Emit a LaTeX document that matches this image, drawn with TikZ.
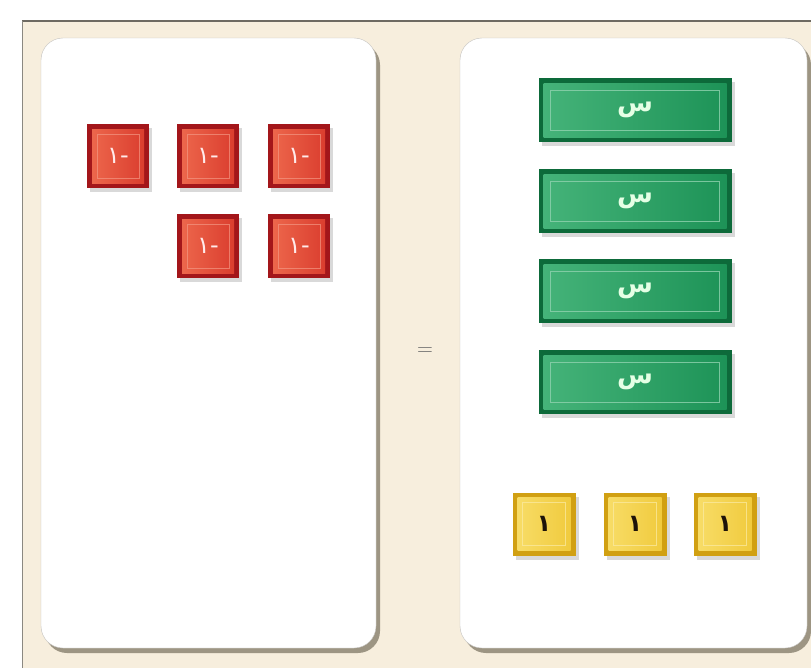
\documentclass[tikz,border=0pt]{standalone}
\usepackage{fontspec}
\newfontfamily\arabicfont[Script=Arabic]{DejaVu Sans}
\TeXXeTstate=1
\usetikzlibrary{shadows}
\definecolor{beige}{HTML}{F7EEDD}
\definecolor{frameline}{HTML}{6E6A62}
\definecolor{pshadow}{HTML}{8E8674}
\definecolor{redout}{HTML}{A3161A}
\definecolor{redin}{HTML}{D93A2C}
\definecolor{redlt}{HTML}{EE6A4E}
\definecolor{grnout}{HTML}{0D6A3A}
\definecolor{grnin}{HTML}{1C9256}
\definecolor{grnlt}{HTML}{46B47A}
\definecolor{ylwout}{HTML}{D1A012}
\definecolor{ylwin}{HTML}{F0C93A}
\definecolor{ylwlt}{HTML}{F8DE6A}
\tikzset{
  panel/.style={fill=white, draw=frameline!40, line width=0.4pt, rounded corners=22pt,
    drop shadow={shadow xshift=4pt, shadow yshift=-5pt, fill=pshadow, opacity=0.85}},
  tilebase/.style={inner sep=0pt, draw=none,
    drop shadow={shadow xshift=3pt, shadow yshift=-4pt, fill=black, opacity=0.15}},
  redtile/.style={tilebase, fill=redout, minimum width=62pt, minimum height=64pt,
    text=white!92!red, font=\arabicfont\fontsize{24}{28}\selectfont,
    path picture={
      \fill[left color=redlt, right color=redin]
        ([shift={(5pt,5pt)}]path picture bounding box.south west) rectangle
        ([shift={(-5pt,-5pt)}]path picture bounding box.north east);
      \draw[redlt!70!white, line width=0.6pt, opacity=0.7]
        ([shift={(10pt,10pt)}]path picture bounding box.south west) rectangle
        ([shift={(-10pt,-10pt)}]path picture bounding box.north east);
    }},
  grntile/.style={tilebase, fill=grnout, minimum width=193pt, minimum height=64pt,
    text=white!90!green, font=\arabicfont\bfseries\fontsize{26}{30}\selectfont,
    path picture={
      \fill[left color=grnlt, right color=grnin]
        ([shift={(5pt,5pt)}]path picture bounding box.south west) rectangle
        ([shift={(-5pt,-5pt)}]path picture bounding box.north east);
      \draw[grnlt!60!white, line width=0.7pt, opacity=0.8]
        ([shift={(12pt,12pt)}]path picture bounding box.south west) rectangle
        ([shift={(-12pt,-12pt)}]path picture bounding box.north east);
    }},
  ylwtile/.style={tilebase, fill=ylwout, minimum width=63pt, minimum height=63pt,
    text=black!85!brown, font=\arabicfont\bfseries\fontsize{24}{28}\selectfont,
    path picture={
      \fill[left color=ylwlt, right color=ylwin]
        ([shift={(5pt,5pt)}]path picture bounding box.south west) rectangle
        ([shift={(-5pt,-5pt)}]path picture bounding box.north east);
      \draw[ylwlt!60!white, line width=0.6pt, opacity=0.7]
        ([shift={(10pt,10pt)}]path picture bounding box.south west) rectangle
        ([shift={(-10pt,-10pt)}]path picture bounding box.north east);
    }},
}
\begin{document}
\begin{tikzpicture}[x=1pt,y=-1pt]
\useasboundingbox (0,0) rectangle (811,667);
\fill[white] (0,0) rectangle (811,667);
\begin{scope}
\clip (0,0) rectangle (811,667);
\fill[beige] (22,21) rectangle (830,700);
\draw[frameline, line width=2.2pt] (22,21) -- (830,21);
\draw[frameline!80, line width=1pt] (22,21) -- (22,700);
\path[panel] (41,38) rectangle (376,648);
\path[panel] (460,38) rectangle (807,648);
\end{scope}
% left panel: five -1 tiles
\node[redtile] (r1) at (118,156) {\beginR -١\endR};
\node[redtile] (r2) at (208,156) {\beginR -١\endR};
\node[redtile] (r3) at (299,156) {\beginR -١\endR};
\node[redtile] (r4) at (208,246) {\beginR -١\endR};
\node[redtile] (r5) at (299,246) {\beginR -١\endR};
% equals sign
\node[text=black!60, font=\fontsize{22}{24}\selectfont] (eq) at (425,352) {=};
% right panel: four x tiles
\node[grntile] (g1) at (635,110) {\beginR س\endR};
\node[grntile] (g2) at (635,201) {\beginR س\endR};
\node[grntile] (g3) at (635,291) {\beginR س\endR};
\node[grntile] (g4) at (635,382) {\beginR س\endR};
% three 1 tiles
\node[ylwtile] (y1) at (544,524) {\beginR ١\endR};
\node[ylwtile] (y2) at (635,524) {\beginR ١\endR};
\node[ylwtile] (y3) at (725,524) {\beginR ١\endR};
\end{tikzpicture}
\end{document}
